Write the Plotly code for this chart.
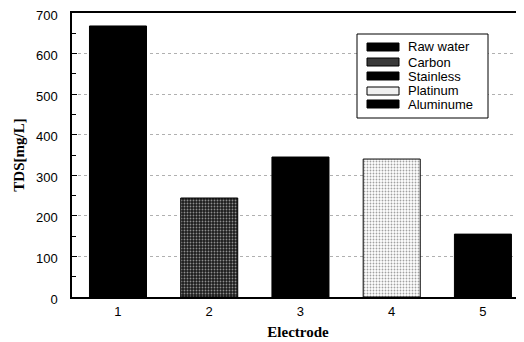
import plotly.graph_objects as go

electrodes = [1, 2, 3, 4, 5]
tds_values = [668, 244, 345, 340, 155]
series_names = ["Raw water", "Carbon", "Stainless", "Platinum", "Aluminume"]
bar_colors = ["#000000", "#1c1c1c", "#000000", "#ffffff", "#000000"]
pattern_shapes = ["", ".", "", ".", ""]
pattern_fg = ["#000000", "#8a8a8a", "#000000", "#b4b4b4", "#000000"]
y_ticks = [0, 100, 200, 300, 400, 500, 600, 700]

# page body has an 8px margin; compensate so the plot lands where the reference is
OFF = 8
W, H = 524 - OFF, 342 - OFF
L, R, T, B = 72 - OFF, 0, 13 - OFF, 45

fig = go.Figure()
fig.add_trace(go.Bar(
    x=electrodes, y=tds_values, width=0.625,
    marker=dict(color=bar_colors, line=dict(color="black", width=1),
                pattern=dict(shape=pattern_shapes, fgcolor=pattern_fg, bgcolor=bar_colors,
                             size=3, solidity=0.3, fillmode="overlay")),
    showlegend=False,
))

def px2paper(px, py):
    px -= OFF
    py -= OFF
    return (px - L) / (W - L - R), (H - B - py) / (H - T - B)

shapes = []
annotations = []
x0, y0 = px2paper(357, 34)
x1, y1 = px2paper(488, 118)
shapes.append(dict(type="rect", xref="paper", yref="paper", x0=x0, y0=y1, x1=x1, y1=y0,
                   line=dict(color="black", width=1), fillcolor="white", layer="above"))
row_y = [47, 62, 76, 91, 104]
swatch_fill = ["#000000", "#3a3a3a", "#000000", "#f0f0f0", "#000000"]
for name, fill, ry in zip(series_names, swatch_fill, row_y):
    sx0, sy0 = px2paper(367, ry - 4)
    sx1, sy1 = px2paper(399, ry + 4)
    shapes.append(dict(type="rect", xref="paper", yref="paper", x0=sx0, y0=sy1, x1=sx1, y1=sy0,
                       line=dict(color="black", width=1), fillcolor=fill, layer="above"))
    tx, ty = px2paper(406, ry)
    annotations.append(dict(xref="paper", yref="paper", x=tx, y=ty, text=name, showarrow=False,
                            xanchor="left", yanchor="middle",
                            font=dict(family="Liberation Sans, Arial", size=13, color="black")))

fig.update_layout(
    width=W, height=H,
    margin=dict(l=L, r=R, t=T, b=B, autoexpand=False),
    paper_bgcolor="white", plot_bgcolor="white",
    shapes=shapes, annotations=annotations,
    showlegend=False,
    font=dict(family="Liberation Sans, Arial", size=12, color="black"),
)
fig.update_xaxes(
    automargin=False,
    range=[0.496, 5.45], tickvals=electrodes, ticktext=[str(e) for e in electrodes],
    showline=True, linecolor="black", linewidth=1.5, mirror=True,
    ticks="", showgrid=False, zeroline=False,
    ticklabelstandoff=2,
    tickfont=dict(family="Liberation Sans, Arial", size=13, color="black"),
    title=dict(text="<b>Electrode</b>", standoff=8,
               font=dict(family="Liberation Serif, Times New Roman", size=15, color="black")),
)
fig.update_yaxes(
    automargin=False,
    range=[0, 700], tickvals=y_ticks,
    ticklabeloverflow="allow",
    ticklabelshift=2,
    showline=True, linecolor="black", linewidth=1.5,
    ticks="inside", ticklen=5, tickcolor="black",
    ticklabelstandoff=10,
    minor=dict(ticks="inside", ticklen=4, tickcolor="black", dtick=50, showgrid=False),
    showgrid=True, gridcolor="#b0b0b0", griddash="dot", gridwidth=1,
    zeroline=False,
    tickfont=dict(family="Liberation Sans, Arial", size=13, color="black"),
    title=dict(text="<b>TDS[mg/L]</b>", standoff=8,
               font=dict(family="Liberation Serif, Times New Roman", size=15, color="black")),
)

fig.write_html("out.html")
